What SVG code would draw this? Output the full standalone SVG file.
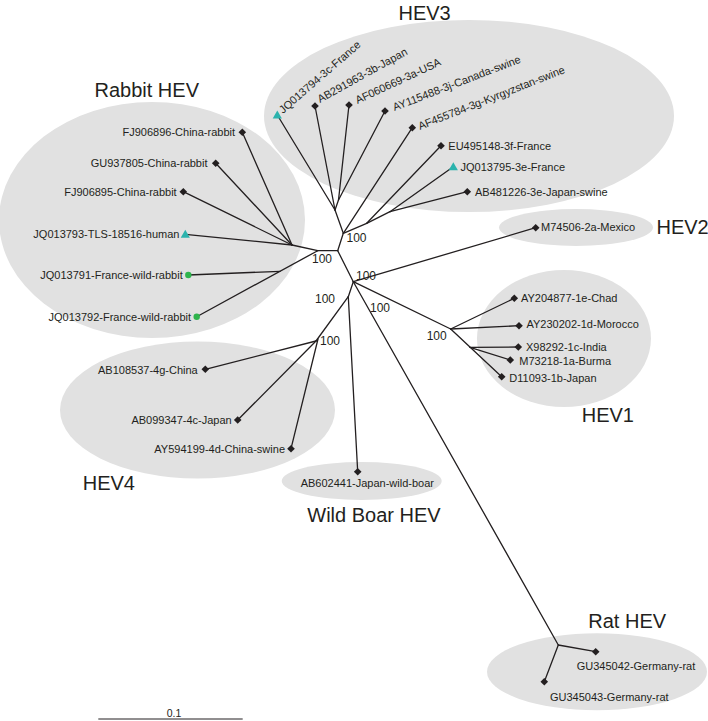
<svg xmlns="http://www.w3.org/2000/svg" xmlns:xlink="http://www.w3.org/1999/xlink" width="708" height="721" viewBox="0 0 708 721">
<style>
  .cl { fill: #e1e1e1; stroke: none; }
  .br { stroke: #231f20; stroke-width: 1.3; fill: none; stroke-linecap: round; }
  .tip { font-family: "Liberation Sans", Arial, sans-serif; font-size: 11px; fill: #231f20; }
  .bs { font-family: "Liberation Sans", Arial, sans-serif; font-size: 12px; fill: #231f20; }
  .grp { font-family: "Liberation Sans", Arial, sans-serif; font-size: 20px; fill: #231f20; }
  .end { text-anchor: end; }
  .dia { fill: #231f20; }
  .tri { fill: #2bb3ad; }
  .dot { fill: #2fb44d; }
</style>
<defs>
  <path id="d" d="M0,-3.8 L3.8,0 L0,3.8 L-3.8,0 Z"/>
  <path id="t" d="M0,-4.5 L4.6,3.5 L-4.6,3.5 Z"/>
</defs>

<g id="clusters">
  <ellipse id="c-hev3" class="cl" cx="469" cy="116" rx="205" ry="96"/>
  <ellipse id="c-rabbit" class="cl" cx="152" cy="220" rx="153" ry="118"/>
  <ellipse id="c-hev2" class="cl" cx="576" cy="227.5" rx="77" ry="18.5"/>
  <ellipse id="c-hev1" class="cl" cx="564" cy="338.5" rx="87" ry="68.5"/>
  <ellipse id="c-hev4" class="cl" cx="197.5" cy="410" rx="137.5" ry="68.5"/>
  <ellipse id="c-boar" class="cl" cx="361.7" cy="481" rx="80" ry="19"/>
  <ellipse id="c-rat" class="cl" cx="597" cy="671.7" rx="110" ry="38.5"/>
</g>

<g id="connectors" class="br">
  <!-- backbone -->
  <line x1="343.3" y1="233.3" x2="337.7" y2="250.7"/>
  <line x1="337.7" y1="250.7" x2="317.7" y2="250.7"/>
  <line x1="337.7" y1="250.7" x2="353.3" y2="281.7"/>
  <line x1="353.3" y1="281.7" x2="348.3" y2="296.7"/>
  <!-- HEV3 -->
  <line x1="343.3" y1="233.3" x2="335" y2="210"/>
  <line x1="335" y1="210" x2="277.3" y2="115"/>
  <line x1="335" y1="210" x2="315" y2="106"/>
  <line x1="335" y1="210" x2="338.5" y2="200"/>
  <line x1="338.5" y1="200" x2="349" y2="105"/>
  <line x1="338.5" y1="200" x2="385" y2="111"/>
  <line x1="343.3" y1="233.3" x2="412.3" y2="127.7"/>
  <line x1="343.3" y1="233.3" x2="366.7" y2="223.3"/>
  <line x1="366.7" y1="223.3" x2="441" y2="145.7"/>
  <line x1="366.7" y1="223.3" x2="390" y2="211.7"/>
  <line x1="390" y1="211.7" x2="453.3" y2="166.7"/>
  <line x1="390" y1="211.7" x2="467.3" y2="191.7"/>
  <!-- Rabbit -->
  <line x1="317.7" y1="250.7" x2="292" y2="245"/>
  <line x1="292" y1="245" x2="185.3" y2="234.3"/>
  <line x1="292" y1="245" x2="242.3" y2="132.3"/>
  <line x1="292" y1="245" x2="215.7" y2="163.3"/>
  <line x1="292" y1="245" x2="183.3" y2="191.7"/>
  <line x1="317.7" y1="250.7" x2="196.7" y2="316.7"/>
  <line x1="280" y1="271.3" x2="188.3" y2="275"/>
  <!-- HEV2 -->
  <line x1="353.3" y1="281.7" x2="535.7" y2="227.7"/>
  <!-- HEV1 -->
  <line x1="353.3" y1="281.7" x2="450.7" y2="329"/>
  <line x1="450.7" y1="329" x2="514.3" y2="298.3"/>
  <line x1="450.7" y1="329" x2="519" y2="325.7"/>
  <line x1="450.7" y1="329" x2="501.7" y2="376.7"/>
  <line x1="470" y1="347.3" x2="518.3" y2="347"/>
  <line x1="470" y1="347.3" x2="510.3" y2="360"/>
  <!-- Rat -->
  <line x1="353.3" y1="281.7" x2="558.3" y2="645"/>
  <line x1="558.3" y1="645" x2="595.7" y2="651.7"/>
  <line x1="558.3" y1="645" x2="544.3" y2="681.7"/>
  <!-- HEV4 / wild boar -->
  <line x1="348.3" y1="296.7" x2="357.7" y2="471.7"/>
  <line x1="348.3" y1="296.7" x2="316" y2="341"/>
  <line x1="316" y1="341" x2="205.3" y2="369.3"/>
  <line x1="316" y1="341" x2="237.7" y2="420"/>
  <line x1="318" y1="339" x2="291" y2="448.7"/>
</g>

<g id="bootstrap" class="bs">
  <text x="346.5" y="241.5">100</text>
  <text x="312" y="263">100</text>
  <text x="356" y="280">100</text>
  <text x="315" y="303">100</text>
  <text x="370" y="311.5">100</text>
  <text x="426.7" y="340">100</text>
  <text x="320" y="345">100</text>
</g>

<g id="n-JQ013794" class="tip"><use href="#t" x="277.3" y="115" class="tri"/><text transform="translate(283,114) rotate(-41)">JQ013794-3c-France</text></g>
<g id="n-AB291963" class="tip"><use href="#d" x="315" y="106" class="dia"/><text transform="translate(320,103) rotate(-29)">AB291963-3b-Japan</text></g>
<g id="n-AF060669" class="tip"><use href="#d" x="349" y="105" class="dia"/><text transform="translate(357.5,104) rotate(-25)">AF060669-3a-USA</text></g>
<g id="n-AY115488" class="tip"><use href="#d" x="385" y="111" class="dia"/><text transform="translate(394.5,111) rotate(-21)">AY115488-3j-Canada-swine</text></g>
<g id="n-AF455784" class="tip"><use href="#d" x="412.3" y="127.7" class="dia"/><text transform="translate(420,130) rotate(-21.5)">AF455784-3g-Kyrgyzstan-swine</text></g>
<g id="n-EU495148" class="tip"><use href="#d" x="441" y="145.7" class="dia"/><text x="448.3" y="149.5">EU495148-3f-France</text></g>
<g id="n-JQ013795" class="tip"><use href="#t" x="453.3" y="166.7" class="tri"/><text x="460.5" y="170.5">JQ013795-3e-France</text></g>
<g id="n-AB481226" class="tip"><use href="#d" x="467.3" y="191.7" class="dia"/><text x="475" y="195.5">AB481226-3e-Japan-swine</text></g>

<g id="n-FJ906896" class="tip"><use href="#d" x="242.3" y="132.3" class="dia"/><text class="end" x="235" y="136">FJ906896-China-rabbit</text></g>
<g id="n-GU937805" class="tip"><use href="#d" x="215.7" y="163.3" class="dia"/><text class="end" x="207.5" y="167">GU937805-China-rabbit</text></g>
<g id="n-FJ906895" class="tip"><use href="#d" x="183.3" y="191.7" class="dia"/><text class="end" x="176.7" y="195.5">FJ906895-China-rabbit</text></g>
<g id="n-JQ013793" class="tip"><use href="#t" x="185.3" y="234.3" class="tri"/><text class="end" x="179.5" y="238">JQ013793-TLS-18516-human</text></g>
<g id="n-JQ013791" class="tip"><circle cx="188.3" cy="275" r="3.2" class="dot"/><text class="end" x="182.7" y="279">JQ013791-France-wild-rabbit</text></g>
<g id="n-JQ013792" class="tip"><circle cx="196.7" cy="316.7" r="3.2" class="dot"/><text class="end" x="191" y="320.5">JQ013792-France-wild-rabbit</text></g>

<g id="n-M74506" class="tip"><use href="#d" x="535.7" y="227.7" class="dia"/><text x="541" y="231">M74506-2a-Mexico</text></g>

<g id="n-AY204877" class="tip"><use href="#d" x="514.3" y="298.3" class="dia"/><text x="521" y="302">AY204877-1e-Chad</text></g>
<g id="n-AY230202" class="tip"><use href="#d" x="519" y="325.7" class="dia"/><text x="526.5" y="328">AY230202-1d-Morocco</text></g>
<g id="n-X98292" class="tip"><use href="#d" x="518.3" y="347" class="dia"/><text x="526" y="351">X98292-1c-India</text></g>
<g id="n-M73218" class="tip"><use href="#d" x="510.3" y="360" class="dia"/><text x="519.3" y="365">M73218-1a-Burma</text></g>
<g id="n-D11093" class="tip"><use href="#d" x="501.7" y="376.7" class="dia"/><text x="509.3" y="382">D11093-1b-Japan</text></g>

<g id="n-AB108537" class="tip"><use href="#d" x="205.3" y="369.3" class="dia"/><text class="end" x="197.7" y="374">AB108537-4g-China</text></g>
<g id="n-AB099347" class="tip"><use href="#d" x="237.7" y="420" class="dia"/><text class="end" x="231.7" y="424">AB099347-4c-Japan</text></g>
<g id="n-AY594199" class="tip"><use href="#d" x="291" y="448.7" class="dia"/><text class="end" x="285" y="452.5">AY594199-4d-China-swine</text></g>

<g id="n-AB602441" class="tip"><use href="#d" x="357.7" y="471.7" class="dia"/><text x="300.7" y="486.5">AB602441-Japan-wild-boar</text></g>

<g id="n-GU345042" class="tip"><use href="#d" x="595.7" y="651.7" class="dia"/><text x="576.7" y="670">GU345042-Germany-rat</text></g>
<g id="n-GU345043" class="tip"><use href="#d" x="544.3" y="681.7" class="dia"/><text x="550" y="700.5">GU345043-Germany-rat</text></g>

<g id="labels" class="grp">
  <text x="398.5" y="20">HEV3</text>
  <text x="94.5" y="97">Rabbit HEV</text>
  <text x="656.5" y="234">HEV2</text>
  <text x="581.7" y="422">HEV1</text>
  <text x="82.7" y="490">HEV4</text>
  <text x="307.3" y="522">Wild Boar HEV</text>
  <text x="588.3" y="628">Rat HEV</text>
</g>

<g id="scale">
  <line x1="98.3" y1="719" x2="242.7" y2="719" stroke="#231f20" stroke-width="1"/>
  <text x="174" y="717" text-anchor="middle" font-family="Liberation Sans, Arial, sans-serif" font-size="10.5" fill="#231f20">0.1</text>
</g>
</svg>
